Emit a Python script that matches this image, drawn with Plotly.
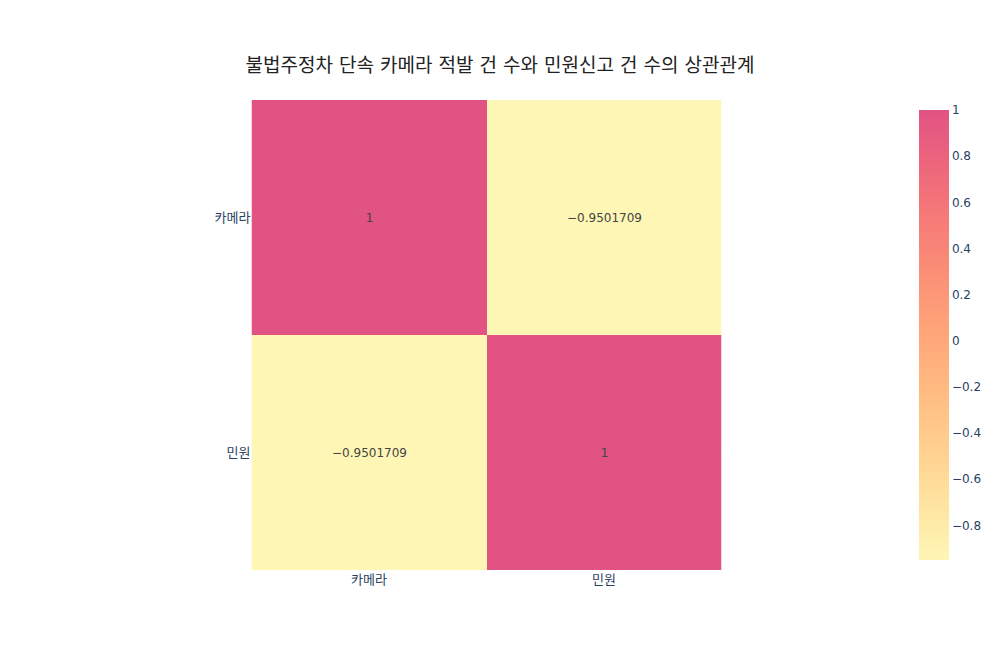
import plotly.express as px

labels = ["카메라", "민원"]
corr_camera = [1.0, -0.9501709]
corr_complaint = [-0.9501709, 1.0]
title_text = "불법주정차 단속 카메라 적발 건 수와 민원신고 건 수의 상관관계"

z = [corr_camera, corr_complaint]

fig = px.imshow(
    z,
    x=labels,
    y=labels,
    color_continuous_scale="Pinkyl",
    text_auto=True,
)
fig.update_traces(texttemplate="%{z}")
fig.update_layout(
    width=1000,
    height=650,
    template="plotly_white",
    font=dict(family="Verdana, DejaVu Sans, Noto Sans CJK KR, sans-serif"),
    title=dict(text=title_text, x=0.5, xanchor="center", y=0.9, yanchor="middle",
               font=dict(color="#222222", size=19)),
    margin=dict(t=100, b=80, l=80, r=80),
)
fig.update_xaxes(tickfont=dict(size=13))
fig.update_yaxes(tickfont=dict(size=13))
fig.write_html("out.html")
